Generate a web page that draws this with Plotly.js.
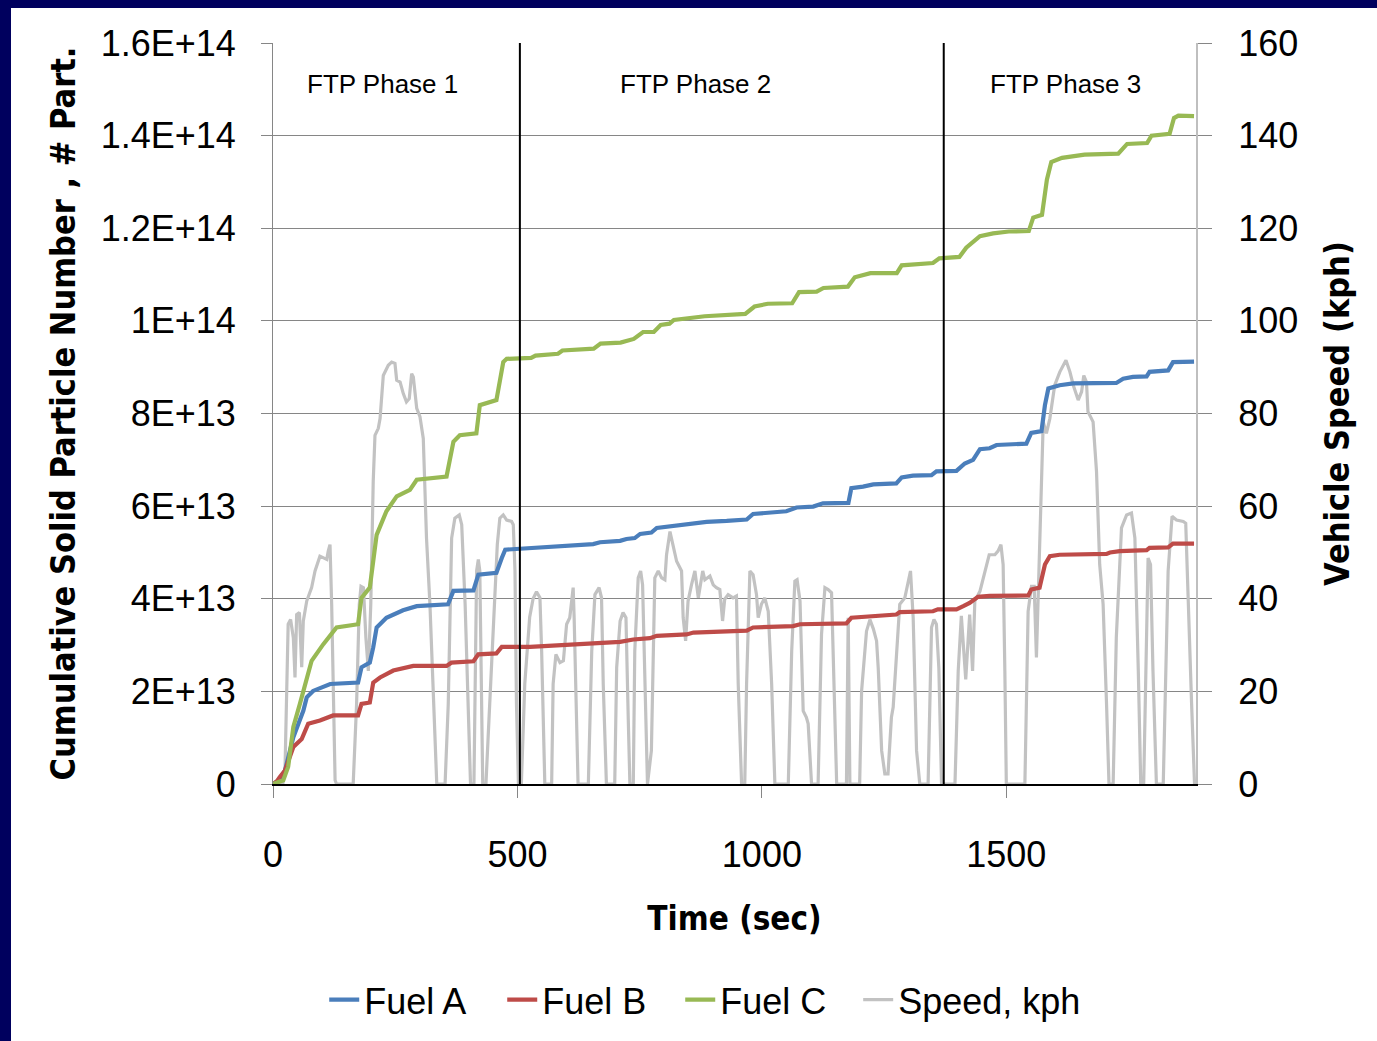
<!DOCTYPE html>
<html>
<head>
<meta charset="utf-8">
<script src="https://cdn.plot.ly/plotly-3.0.1.min.js"></script>
<style>
  html, body { margin: 0; padding: 0; background: #00005e; width: 1377px; height: 1041px; overflow: hidden; }
  #chart { position: absolute; left: 11px; top: 8px; width: 1366px; height: 1033px; background: #ffffff; }
</style>
</head>
<body>
<div id="chart"></div>
<script>
// Cumulative solid particle number over the FTP-75 cycle, three fuels, with vehicle speed.

const seriesNames = ['Fuel A', 'Fuel B', 'Fuel C', 'Speed, kph'];
const phaseNames = ['FTP Phase 1', 'FTP Phase 2', 'FTP Phase 3'];
const phaseBounds = [505, 1372];

const xTicks = [0, 500, 1000, 1500];
const pnTickVals = [0, 2e13, 4e13, 6e13, 8e13, 1e14, 1.2e14, 1.4e14, 1.6e14];
const pnTickText = ['0', '2E+13', '4E+13', '6E+13', '8E+13', '1E+14', '1.2E+14', '1.4E+14', '1.6E+14'];
const speedTicks = [0, 20, 40, 60, 80, 100, 120, 140, 160];

// Fuel A
const timeA = [0, 12, 24.5, 41.6, 52, 62, 69, 82, 117, 174, 181, 198, 205, 212, 232, 266, 294, 358, 369, 410,
  420, 457, 468, 475, 505, 573, 655, 669, 710, 723, 740, 751, 774, 785, 812, 846, 887, 928, 969, 982,
  1010, 1050, 1071, 1105, 1125, 1177, 1183, 1207, 1228, 1275, 1286, 1309, 1347, 1357, 1398, 1415, 1432, 1446, 1466, 1480,
  1541, 1551, 1572, 1579, 1586, 1609, 1637, 1725, 1739, 1759, 1787, 1793, 1831, 1841, 1884];
const fuelA = [0, 0.08e13, 0.29e13, 1.01e13, 1.30e13, 1.58e13, 1.87e13, 2.01e13, 2.16e13, 2.19e13, 2.52e13, 2.62e13, 2.95e13, 3.38e13, 3.59e13, 3.75e13, 3.84e13, 3.88e13, 4.17e13, 4.18e13,
  4.52e13, 4.56e13, 4.88e13, 5.06e13, 5.08e13, 5.13e13, 5.18e13, 5.22e13, 5.25e13, 5.29e13, 5.31e13, 5.40e13, 5.43e13, 5.53e13, 5.56e13, 5.61e13, 5.66e13, 5.68e13, 5.71e13, 5.83e13,
  5.86e13, 5.89e13, 5.97e13, 5.99e13, 6.06e13, 6.07e13, 6.39e13, 6.42e13, 6.47e13, 6.49e13, 6.62e13, 6.66e13, 6.67e13, 6.75e13, 6.76e13, 6.92e13, 7.00e13, 7.23e13, 7.25e13, 7.32e13,
  7.35e13, 7.58e13, 7.62e13, 8.18e13, 8.54e13, 8.61e13, 8.65e13, 8.66e13, 8.75e13, 8.79e13, 8.80e13, 8.90e13, 8.93e13, 9.11e13, 9.12e13];

// Fuel B
const timeB = [0, 8, 14, 24.5, 41.6, 58.7, 72, 96, 123, 174, 181, 198, 205, 219, 246, 287, 355, 365, 410, 420,
  457, 468, 526, 600, 655, 669, 710, 737, 771, 785, 846, 860, 969, 982, 1064, 1078, 1173, 1183, 1275, 1282,
  1350, 1360, 1398, 1412, 1425, 1442, 1466, 1545, 1551, 1568, 1579, 1589, 1609, 1705, 1712, 1732, 1787, 1793, 1831, 1841, 1884];
const fuelB = [0, 0.06e13, 0.15e13, 0.29e13, 0.80e13, 0.97e13, 1.30e13, 1.37e13, 1.48e13, 1.48e13, 1.73e13, 1.76e13, 2.19e13, 2.30e13, 2.45e13, 2.55e13, 2.55e13, 2.62e13, 2.65e13, 2.80e13,
  2.82e13, 2.96e13, 2.96e13, 3.00e13, 3.02e13, 3.05e13, 3.07e13, 3.12e13, 3.15e13, 3.20e13, 3.23e13, 3.27e13, 3.31e13, 3.38e13, 3.41e13, 3.45e13, 3.47e13, 3.59e13, 3.66e13, 3.71e13,
  3.73e13, 3.77e13, 3.77e13, 3.84e13, 3.91e13, 4.04e13, 4.06e13, 4.07e13, 4.20e13, 4.24e13, 4.74e13, 4.92e13, 4.95e13, 4.97e13, 5.00e13, 5.03e13, 5.05e13, 5.10e13, 5.11e13, 5.19e13, 5.19e13];

// Fuel C
const timeC = [0, 21, 31, 41.6, 55, 69, 79, 103, 130, 174, 181, 198, 205, 212, 232, 253, 280, 294, 355, 369,
  382, 416, 423, 457, 471, 478, 528, 537, 583, 592, 656, 670, 711, 724, 738, 757, 779, 793, 811, 820,
  866, 883, 966, 985, 1012, 1062, 1076, 1112, 1126, 1176, 1190, 1222, 1276, 1286, 1350, 1363, 1404, 1418, 1446, 1473,
  1505, 1546, 1555, 1573, 1583, 1592, 1614, 1633, 1660, 1729, 1747, 1788, 1797, 1834, 1843, 1852, 1884];
const fuelC = [0, 0.08e13, 0.37e13, 1.23e13, 1.73e13, 2.23e13, 2.66e13, 3.02e13, 3.38e13, 3.45e13, 4.02e13, 4.24e13, 4.75e13, 5.38e13, 5.89e13, 6.21e13, 6.35e13, 6.57e13, 6.64e13, 7.39e13,
  7.53e13, 7.57e13, 8.18e13, 8.29e13, 9.11e13, 9.18e13, 9.20e13, 9.25e13, 9.29e13, 9.36e13, 9.40e13, 9.51e13, 9.53e13, 9.58e13, 9.61e13, 9.76e13, 9.76e13, 9.91e13, 9.94e13, 10.02e13,
  10.08e13, 10.10e13, 10.15e13, 10.31e13, 10.37e13, 10.38e13, 10.62e13, 10.63e13, 10.71e13, 10.74e13, 10.94e13, 11.03e13, 11.03e13, 11.20e13, 11.25e13, 11.35e13, 11.38e13, 11.58e13, 11.83e13, 11.89e13,
  11.93e13, 11.94e13, 12.23e13, 12.29e13, 13.05e13, 13.43e13, 13.52e13, 13.55e13, 13.59e13, 13.61e13, 13.82e13, 13.84e13, 14.00e13, 14.04e13, 14.38e13, 14.43e13, 14.42e13];

// Vehicle speed, kph
const timeSpeed = [0, 20, 24.5, 31, 36, 41.6, 45, 48.4, 54, 58.7, 62, 69, 79, 86, 96, 110, 113, 116.6, 120, 123,
  127, 130, 164, 171, 176.5, 180, 185, 190, 195, 200, 205, 208.6, 215.4, 219, 225.6, 235.8, 242.7, 249.5, 253, 260,
  266.5, 273, 278.7, 283.6, 287, 294, 300.6, 307.4, 314, 321, 328, 335, 352, 358.5, 365.4, 372, 381, 386, 393, 399.5,
  404, 411, 416.5, 420, 423, 429, 435.6, 440, 450.5, 458.8, 464, 471, 478, 488, 491.5, 495, 498, 502, 508, 515,
  525, 532, 539, 546, 549.5, 553, 556, 570, 573, 578.7, 587, 594, 600.6, 607, 614, 616, 621, 624, 645, 652,
  658.5, 667, 672, 675.5, 682, 699, 703, 710, 716, 722, 726.6, 730, 737, 740, 747, 752, 756, 761, 766, 774,
  781, 788, 795, 801.6, 805, 812, 818.6, 825.6, 835.7, 839, 844, 849, 856, 863, 870, 879, 883.4, 893.7, 900.5, 907,
  914, 919.6, 924, 931, 941, 948, 951.6, 958.5, 965, 968.7, 975.5, 982, 989, 992.5, 999, 1006, 1013, 1020, 1026.6, 1054,
  1061, 1067.5, 1072, 1078, 1084.5, 1091, 1094.7, 1101.6, 1115, 1122, 1129, 1135.6, 1142.5, 1146, 1153, 1173, 1176.6, 1180, 1200, 1204,
  1214, 1221, 1228, 1234.6, 1238, 1245, 1251.5, 1258, 1265, 1268.6, 1275.5, 1282, 1292.4, 1299, 1304, 1309.5, 1316.4, 1323, 1340, 1347,
  1352, 1357, 1362, 1367.5, 1395, 1401.6, 1408, 1417, 1425, 1431, 1435.6, 1446, 1456, 1465, 1476.6, 1483, 1489, 1493.5, 1497, 1500,
  1538, 1544.6, 1551.5, 1557, 1561.6, 1568.6, 1575.5, 1582, 1589, 1599, 1609.5, 1622, 1630, 1637, 1647, 1654, 1658.5, 1664, 1667, 1677.5,
  1684.5, 1691, 1698, 1705, 1710, 1718.5, 1725, 1735.6, 1746, 1756, 1763, 1770, 1775, 1781, 1790, 1795, 1800, 1807, 1821, 1831,
  1839, 1848, 1862, 1867, 1872, 1879, 1885];
const speedKph = [0, 0, 2.9, 34.5, 35.5, 31.6, 23, 36.6, 37, 25.2, 35.2, 39.5, 42.4, 46, 49.2, 48.5, 50.3, 51.7, 38.8, 24.4,
  0.8, 0, 0, 17.3, 38.8, 42.7, 42.4, 31.6, 24.4, 38.8, 65.3, 75.3, 76.8, 78.9, 88.2, 90.4, 91.1, 90.8, 87.2, 86.8,
  84.3, 82.5, 83.2, 88.6, 87.9, 81.1, 79.3, 74.6, 53.1, 38.8, 17.3, 0, 0, 17.3, 53.1, 57.4, 58.1, 56, 38.8, 17.3,
  0, 0, 46, 48.5, 46, 0, 0, 10, 31.6, 51.7, 57.4, 58.1, 57, 56.7, 56, 46, 17.3, 0, 0, 21.6,
  36, 40, 41.5, 40.2, 28.7, 14.4, 0, 0, 21.6, 28, 26.2, 26.6, 34.5, 35.9, 42.4, 35.9, 14.4, 0, 0, 28.7,
  40.9, 42.4, 40.2, 21.6, 0, 0, 25.2, 35.2, 37, 35.9, 14.4, 0, 0, 28.7, 44.5, 46, 43, 21.6, 0, 7.2,
  44.5, 46, 44.5, 44.1, 49.5, 54.5, 51.7, 48.1, 46, 35.9, 30.9, 39.5, 43, 46, 40.2, 46, 44.1, 44.9, 43, 42.4,
  42, 35.2, 39.9, 40.9, 40.2, 40.6, 21.6, 0, 0, 21.6, 46, 45.2, 40.9, 35.9, 38.8, 40.2, 37.3, 21.6, 0, 0,
  28.7, 43.8, 44.1, 39.5, 15.8, 14.4, 13, 0, 0, 32.3, 42.4, 42, 41.3, 28.7, 0, 0, 35.9, 0, 0, 20.1,
  33, 35.5, 33.5, 30.9, 25, 7.2, 2.2, 2.2, 14.4, 16.6, 28.7, 38.8, 40.2, 43.8, 46, 35.9, 7.2, 0, 0, 33.8,
  35.5, 34.5, 25, 0, 0, 24.4, 36.3, 22.6, 36.6, 24.4, 39.5, 41.6, 46, 49.5, 49.5, 50.3, 51.7, 47.4, 24.4, 0,
  0, 37.3, 42.7, 42.7, 27.3, 53.1, 78.2, 75.7, 78.9, 86.1, 89, 91.5, 89, 86.1, 82.9, 84.7, 88.2, 86.8, 80.4, 78.2,
  67.5, 47.4, 38.8, 17.3, 0, 0, 31.6, 55.3, 58.1, 58.5, 53.1, 24.4, 0, 0, 48.8, 47.4, 24.4, 0, 0, 46,
  57.8, 57, 56.7, 56.3, 38.8, 17.3, 0];

const titleFamily = '"DejaVu Sans Condensed", "Liberation Sans", sans-serif';
const yTitleFont = { family: titleFamily, size: 34, color: '#000000', weight: 'bold' };
const xTitleFont = { family: titleFamily, size: 33, color: '#000000', weight: 'bold' };
const tickFont = { family: '"Liberation Sans", Arial, sans-serif', size: 36, color: '#000000' };
const legendFont = { family: '"Liberation Sans", Arial, sans-serif', size: 36, color: '#000000' };

const traces = [
  { x: timeSpeed, y: speedKph, name: seriesNames[3], type: 'scatter', mode: 'lines', xaxis: 'x', yaxis: 'y',
    line: { color: '#c2c2c2', width: 3.2 }, legend: 'legend2' },
  { x: timeA, y: fuelA, name: seriesNames[0], type: 'scatter', mode: 'lines', xaxis: 'x', yaxis: 'y2',
    line: { color: '#4a7ebb', width: 4.2 }, legendrank: 1 },
  { x: timeB, y: fuelB, name: seriesNames[1], type: 'scatter', mode: 'lines', xaxis: 'x', yaxis: 'y2',
    line: { color: '#be4b48', width: 4.2 }, legendrank: 2 },
  { x: timeC, y: fuelC, name: seriesNames[2], type: 'scatter', mode: 'lines', xaxis: 'x', yaxis: 'y2',
    line: { color: '#98b954', width: 4.2 }, legendrank: 3 }
];

const shapes = phaseBounds.map(b => ({
  type: 'line', xref: 'x', yref: 'paper', x0: b, x1: b, y0: 0, y1: 1,
  line: { color: '#000000', width: 2 }, layer: 'above'
}));

const phaseLabelX = [223, 865, 1622];
const annotations = phaseNames.map((txt, i) => ({
  text: txt, xref: 'x', yref: 'paper', x: phaseLabelX[i], y: 0.945, showarrow: false,
  xanchor: 'center', yanchor: 'middle',
  font: { family: '"Liberation Sans", Arial, sans-serif', size: 26, color: '#000000' }
}));

const layout = {
  width: 1366, height: 1033,
  margin: { l: 262, r: 181, t: 35, b: 254, pad: 0 },
  paper_bgcolor: '#ffffff', plot_bgcolor: '#ffffff',
  showlegend: true,
  legend: {
    orientation: 'h', x: 0.0555, xanchor: 'left', y: -0.291, yanchor: 'middle',
    font: legendFont, bgcolor: 'rgba(0,0,0,0)', traceorder: 'normal',
    entrywidth: 133, entrywidthmode: 'pixels'
  },
  legend2: {
    orientation: 'h', x: 0.634, xanchor: 'left', y: -0.291, yanchor: 'middle',
    font: legendFont, bgcolor: 'rgba(0,0,0,0)'
  },
  xaxis: {
    range: [0, 1888], tickvals: xTicks, ticktext: xTicks.map(String),
    ticks: 'outside', ticklen: 12, tickcolor: '#868686', tickwidth: 1,
    showline: true, linecolor: '#000000', linewidth: 2,
    showgrid: false, zeroline: false, tickfont: tickFont, ticklabelstandoff: 26,
    title: { text: 'Time (sec)', font: xTitleFont, standoff: 33 }
  },
  yaxis: {
    range: [0, 160], tickvals: speedTicks, ticktext: speedTicks.map(String), side: 'right',
    ticks: 'outside', ticklen: 14, tickcolor: '#868686', tickwidth: 1,
    showline: true, linecolor: '#bfbfbf', linewidth: 2,
    showgrid: true, gridcolor: '#868686', gridwidth: 1, zeroline: false,
    tickfont: tickFont, ticklabelstandoff: 19,
    title: { text: 'Vehicle Speed (kph)', font: yTitleFont, standoff: 28 }
  },
  yaxis2: {
    range: [0, 1.6e14], tickvals: pnTickVals, ticktext: pnTickText, side: 'left', overlaying: 'y',
    ticks: 'outside', ticklen: 11, tickcolor: '#868686', tickwidth: 1,
    showline: true, linecolor: '#868686', linewidth: 1,
    showgrid: false, zeroline: false,
    tickfont: tickFont, ticklabelstandoff: 18,
    title: { text: 'Cumulative Solid Particle Number , # Part.', font: yTitleFont, standoff: 14 }
  },
  shapes: shapes,
  annotations: annotations
};

Plotly.newPlot('chart', traces, layout, { displayModeBar: false, staticPlot: true });
</script>
</body>
</html>
